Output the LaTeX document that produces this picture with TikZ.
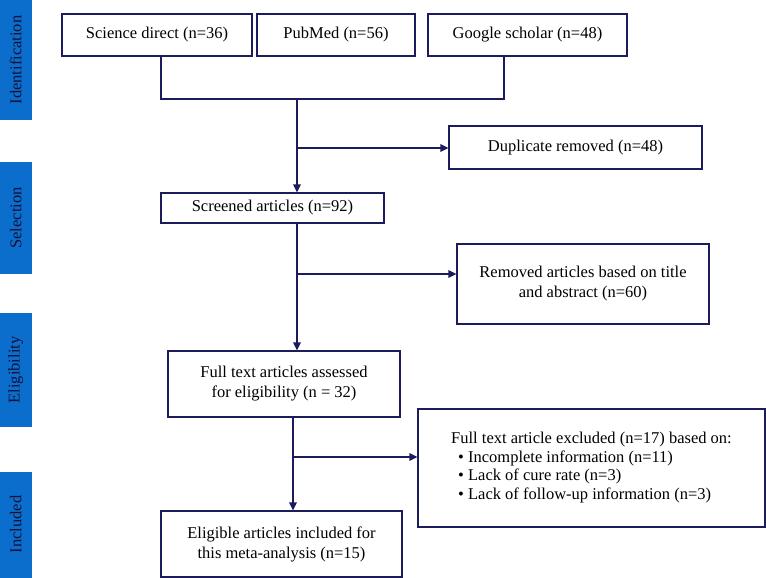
\documentclass[tikz,border=0pt]{standalone}
\usepackage{fontspec}
\setmainfont{Liberation Serif}
\usetikzlibrary{arrows.meta}

\definecolor{navy}{RGB}{28,28,92}
\definecolor{barblue}{RGB}{12,110,204}

\begin{document}
\begin{tikzpicture}[x=1pt,y=-1pt,
  font=\fontsize{16.5}{20}\selectfont,
  >={Triangle[length=8pt,width=7.5pt]},
  box/.style={draw=navy,line width=1.1pt,rectangle,inner sep=0pt,align=center},
  bar/.style={fill=barblue,inner sep=0pt,minimum height=31.5pt,rotate=90,text=navy!60!black},
  link/.style={draw=navy,line width=1.3pt}]
\useasboundingbox (0,0) rectangle (766,578);

% stage bars
\node[bar,minimum width=120pt] (idf) at (15.75,60) {Identification};
\node[bar,minimum width=112pt] (sel) at (15.75,218) {Selection};
\node[bar,minimum width=114pt] (elg) at (15.75,370) {Eligibility};
\node[bar,minimum width=106pt] (inc) at (15.75,524.5) {Included};

% boxes
\node[box,minimum width=190pt,minimum height=42pt] (sd) at (157,35) {Science direct (n=36)};
\node[box,minimum width=158pt,minimum height=42pt] (pm) at (336,35) {PubMed (n=56)};
\node[box,minimum width=199pt,minimum height=42pt] (gs) at (527.5,35) {Google scholar (n=48)};
\node[box,minimum width=253pt,minimum height=43pt] (dup) at (575.5,147.5) {Duplicate removed (n=48)};
\node[box,minimum width=223pt,minimum height=30pt] (scr) at (272.5,208) {Screened articles (n=92)};
\node[box,minimum width=252pt,minimum height=80pt] (rem) at (583,284) {Removed articles based on title\\and abstract (n=60)};
\node[box,minimum width=232pt,minimum height=66pt] (full) at (284,384) {Full text articles assessed\\for eligibility (n = 32)};
\node[box,minimum width=347pt,minimum height=118pt,font=\fontsize{16.5}{18.5}\selectfont] (exc) at (591.5,468) {%
  \begin{tabular}{@{}l@{}}
  Full text article excluded (n=17) based on:\\
  \hspace{7pt}\textbullet\ Incomplete information (n=11)\\
  \hspace{7pt}\textbullet\ Lack of cure rate (n=3)\\
  \hspace{7pt}\textbullet\ Lack of follow-up information (n=3)
  \end{tabular}};
\node[box,minimum width=241pt,minimum height=66pt] (elig) at (281.5,544) {Eligible articles included for\\this meta-analysis (n=15)};

% junctions
\coordinate (b1) at (161,56);
\coordinate (b2) at (504,56);
\coordinate (j1) at (297,99);
\coordinate (j2) at (297,148);
\coordinate (j3) at (297,274);
\coordinate (j4) at (293,417);
\coordinate (j5) at (293,457);

\path[link] (b1) -- (b1 |- j1) -- (b2 |- j1) -- (b2);
\path[link,->] (j1) -- (j1 |- scr.north);
\path[link,->] (j2) -- (dup.west |- j2);
\path[link,->] (j1 |- scr.south) -- (j1 |- full.north);
\path[link,->] (j3) -- (rem.west |- j3);
\path[link,->] (j4) -- (j4 |- elig.north);
\path[link,->] (j5) -- (exc.west |- j5);
\end{tikzpicture}
\end{document}
